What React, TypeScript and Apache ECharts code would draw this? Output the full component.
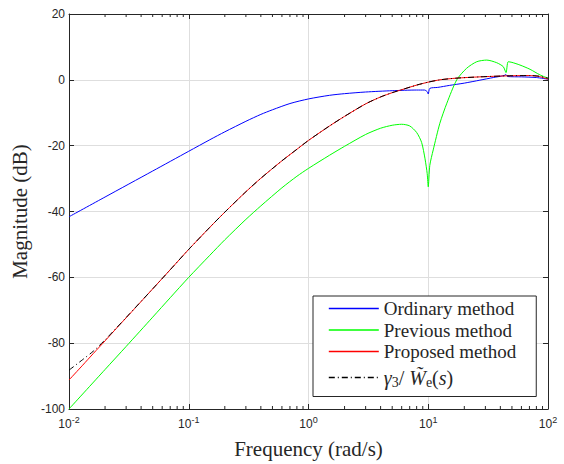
import React, { useEffect, useRef } from "react";
import * as echarts from "echarts";

// Ordinary method (blue)
const ordinaryFreq = [0.01, 0.02, 0.05, 0.1, 0.15, 0.2, 0.3, 0.4, 0.5, 0.7, 1, 1.5, 2, 3, 5, 8, 9.3, 9.8, 10, 10.3, 12, 15, 20, 27, 35, 43, 44.5, 46, 60, 80, 100];
const ordinaryDb = [-41.6, -35.6, -27.7, -21.7, -18.2, -15.8, -12.6, -10.5, -9.1, -7.2, -5.8, -4.7, -4.2, -3.7, -3.3, -3.1, -3.1, -3.6, -4.3, -2.6, -2.3, -1.7, -1.0, -0.1, 0.7, 1.3, 1.6, 1.0, 0.9, 0.7, 0.2];

// Previous method (green)
const previousFreq = [0.01, 0.02, 0.03, 0.05, 0.07, 0.1, 0.15, 0.2, 0.3, 0.4, 0.6, 0.8, 1, 1.5, 2, 3, 4, 5, 6, 7, 8, 8.8, 9.4, 9.8, 10, 10.3, 11, 12.5, 14.3, 17.3, 20.9, 25.4, 30.8, 37.3, 42.3, 44.6, 46.5, 50, 58.3, 70.8, 85.7, 100];
const previousDb = [-100, -88.0, -81.0, -72.1, -66.2, -60.0, -53.3, -48.6, -42.4, -38.3, -32.8, -29.3, -26.9, -22.9, -20.2, -16.6, -14.7, -13.8, -13.5, -14.0, -16.0, -19.0, -24.0, -28.5, -32.5, -26.0, -21.3, -13.2, -7.1, 0.0, 3.5, 5.5, 6.0, 5.2, 4.0, 2.2, 5.5, 5.3, 4.5, 3.2, 1.5, 0.5];

// Proposed method (red)
const proposedFreq = [0.01, 0.013, 0.016, 0.02, 0.025, 0.03, 0.05, 0.07, 0.1, 0.15, 0.2, 0.3, 0.4, 0.6, 0.8, 1, 1.5, 2, 3, 4, 5, 6, 8, 10, 12.5, 17, 27, 45, 70, 85, 100];
const proposedDb = [-91.2, -86.7, -83.1, -79.3, -75.4, -72.3, -63.5, -57.7, -51.5, -44.8, -40.2, -34.0, -29.9, -24.6, -21.1, -18.4, -14.0, -11.1, -7.3, -5.2, -3.9, -3.0, -1.6, -0.7, 0.0, 0.5, 0.9, 1.2, 1.3, 1.0, 0.2];

// gamma_3 / W_e(s) (black dash-dot)
const weightFreq = [0.01, 0.013, 0.016, 0.02, 0.025, 0.03, 0.05, 0.07, 0.1, 0.15, 0.2, 0.3, 0.4, 0.6, 0.8, 1, 1.5, 2, 3, 4, 5, 6, 8, 10, 12.5, 17, 27, 45, 70, 85, 100];
const weightDb = [-88.2, -85.0, -82.4, -79.0, -75.3, -72.2, -63.5, -57.7, -51.5, -44.8, -40.2, -34.0, -29.9, -24.6, -21.1, -18.4, -14.0, -11.1, -7.3, -5.2, -3.9, -3.0, -1.6, -0.7, 0.0, 0.5, 0.9, 1.2, 1.3, 1.1, 0.5];

const seriesNames = ["Ordinary method", "Previous method", "Proposed method", "γ3/ W̃e(s)"];
const seriesColors = ["#0000ff", "#00ff00", "#ff0000", "#000000"];
const dashDot = [6, 3, 1, 3];
const minorTickFreqs = [
  0.02, 0.03, 0.04, 0.05, 0.06, 0.07, 0.08, 0.09,
  0.2, 0.3, 0.4, 0.5, 0.6, 0.7, 0.8, 0.9,
  2, 3, 4, 5, 6, 7, 8, 9,
  20, 30, 40, 50, 60, 70, 80, 90,
];
const xMin = 0.01;
const xMax = 100;
const yMin = -100;
const yMax = 20;
const yStep = 20;

const zip = (xs: number[], ys: number[]) => xs.map((x, i) => [x, ys[i]]);

const AXIS = "#262626";
const GRID = "#dedede";

export default function App() {
  const ref = useRef<HTMLDivElement>(null);
  useEffect(() => {
    document.body.style.margin = "0";
    const chart = echarts.init(ref.current!, null, { renderer: "svg" });
    const lineCommon = { type: "line", symbol: "none", smooth: 0.25, animation: false, z: 2 };
    const styleOf = (i: number, width: number) => ({
      color: seriesColors[i],
      width,
      type: i === 3 ? dashDot : "solid",
    });
    const option: any = {
      animation: false,
      backgroundColor: "#ffffff",
      grid: { left: 69, right: 16, top: 14, bottom: 55, containLabel: false, outerBoundsMode: "none" },
      xAxis: [
        {
          type: "log",
          logBase: 10,
          min: xMin,
          max: xMax,
          axisLine: { show: true, onZero: false, lineStyle: { color: AXIS, width: 1 } },
          axisTick: { show: true, inside: true, length: 5, lineStyle: { color: AXIS } },
          splitLine: { show: true, lineStyle: { color: GRID, width: 1 } },
          axisLabel: {
            margin: 6,
            formatter: (v: number) => `{b|10}{s|${Math.round(Math.log10(v))}}`,
            rich: {
              b: { fontFamily: "Liberation Sans", fontSize: 12, color: AXIS, verticalAlign: "bottom" },
              s: { fontFamily: "Liberation Sans", fontSize: 9, color: AXIS, verticalAlign: "bottom", padding: [0, 0, 6, 0] },
            },
          },
          name: "Frequency (rad/s)",
          nameLocation: "middle",
          nameGap: 29,
          nameTextStyle: { fontFamily: "Liberation Serif", fontSize: 21, color: AXIS },
        },
        {
          type: "log",
          logBase: 10,
          min: xMin,
          max: xMax,
          position: "top",
          axisLine: { show: true, onZero: false, lineStyle: { color: AXIS, width: 1 } },
          axisTick: { show: true, inside: true, length: 5, lineStyle: { color: AXIS } },
          splitLine: { show: false },
          axisLabel: { show: false },
        },
      ],
      yAxis: [
        {
          type: "value",
          min: yMin,
          max: yMax,
          interval: yStep,
          axisLine: { show: true, onZero: false, lineStyle: { color: AXIS, width: 1 } },
          axisTick: { show: true, inside: true, length: 5, lineStyle: { color: AXIS } },
          splitLine: { show: true, lineStyle: { color: GRID, width: 1 } },
          axisLabel: { margin: 4, fontFamily: "Liberation Sans", fontSize: 12, color: AXIS },
          name: "Magnitude (dB)",
          nameLocation: "middle",
          nameGap: 33,
          nameTextStyle: { fontFamily: "Liberation Serif", fontSize: 21, color: AXIS },
        },
        {
          type: "value",
          min: yMin,
          max: yMax,
          interval: yStep,
          position: "right",
          axisLine: { show: true, onZero: false, lineStyle: { color: AXIS, width: 1 } },
          axisTick: { show: true, inside: true, length: 5, lineStyle: { color: AXIS } },
          splitLine: { show: false },
          axisLabel: { show: false },
        },
      ],
      legend: {
        show: true,
        orient: "vertical",
        left: 313,
        top: 296,
        data: seriesNames.map((name, i) => ({ name, lineStyle: styleOf(i, 1.6) })),
        itemWidth: 50,
        itemHeight: 14,
        itemGap: 0.5,
        padding: [2, 20, 4, 15],
        backgroundColor: "#ffffff",
        borderColor: "#262626",
        borderWidth: 1,
        borderRadius: 0,
        itemStyle: { opacity: 0 },
        formatter: (name: string) =>
          name === seriesNames[3]
            ? "{g|γ}{sub|3}{t|/ }{w|W̃}{sub|e}{t|(}{g|s}{t|)}"
            : name,
        textStyle: {
          fontFamily: "Liberation Serif",
          fontSize: 19,
          lineHeight: 21,
          color: "#262626",
          rich: {
            g: { fontFamily: "Liberation Serif", fontStyle: "italic", fontSize: 20, lineHeight: 30, color: "#262626" },
            w: { fontFamily: "Liberation Serif", fontStyle: "italic", fontSize: 20, lineHeight: 30, color: "#262626" },
            t: { fontFamily: "Liberation Serif", fontSize: 20, lineHeight: 30, color: "#262626" },
            sub: { fontFamily: "Liberation Serif", fontSize: 14, lineHeight: 30, color: "#262626", padding: [10, 0, 0, 0] },
          },
        },
      },
      series: [
        {
          ...lineCommon,
          name: seriesNames[0],
          data: zip(ordinaryFreq, ordinaryDb),
          lineStyle: styleOf(0, 1),
          itemStyle: { color: seriesColors[0] },
        },
        {
          ...lineCommon,
          name: seriesNames[1],
          data: zip(previousFreq, previousDb),
          lineStyle: styleOf(1, 1),
          itemStyle: { color: seriesColors[1] },
        },
        {
          ...lineCommon,
          name: seriesNames[2],
          data: zip(proposedFreq, proposedDb),
          lineStyle: styleOf(2, 1),
          itemStyle: { color: seriesColors[2] },
        },
        {
          ...lineCommon,
          name: seriesNames[3],
          data: zip(weightFreq, weightDb),
          lineStyle: styleOf(3, 1),
          itemStyle: { color: seriesColors[3] },
        },
        {
          type: "custom",
          name: "minorTicks",
          coordinateSystem: "cartesian2d",
          silent: true,
          clip: false,
          z: 5,
          data: minorTickFreqs.map((f) => [f, yMin]),
          encode: { x: 0, y: 1 },
          renderItem: (_params: any, api: any) => {
            const f = api.value(0);
            const b = api.coord([f, yMin]);
            const t = api.coord([f, yMax]);
            return {
              type: "group",
              children: [
                { type: "line", shape: { x1: b[0], y1: b[1], x2: b[0], y2: b[1] - 3 }, style: { stroke: AXIS, lineWidth: 1 } },
                { type: "line", shape: { x1: t[0], y1: t[1], x2: t[0], y2: t[1] + 3 }, style: { stroke: AXIS, lineWidth: 1 } },
              ],
            };
          },
        },
      ],
    };
    chart.setOption(option);
    return () => chart.dispose();
  }, []);
  return <div ref={ref} style={{ position: "absolute", left: 0, top: 0, width: 564, height: 464 }} />;
}
